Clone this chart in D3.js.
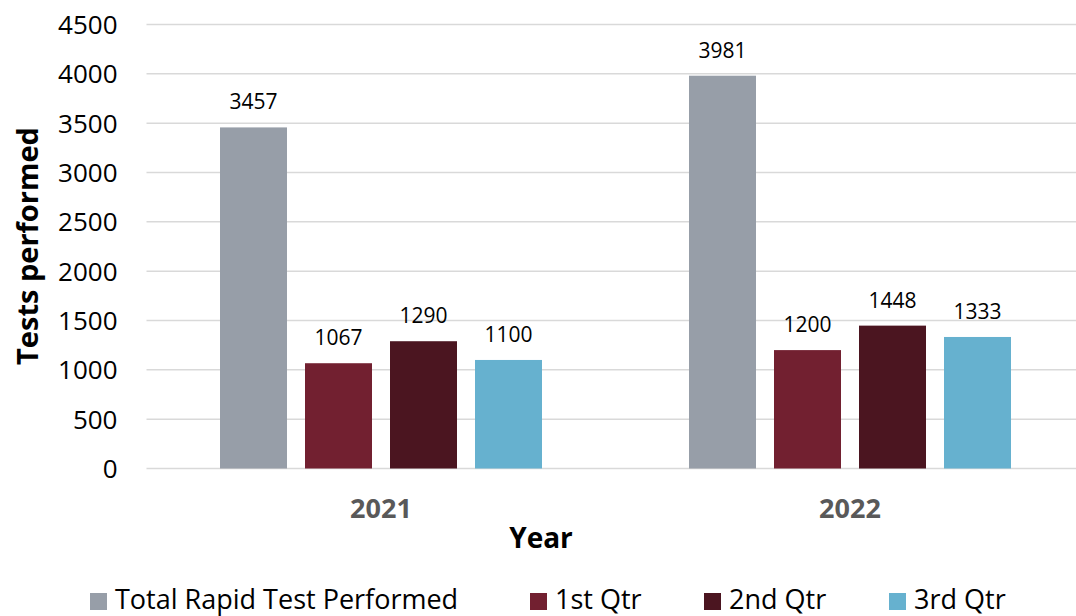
<!DOCTYPE html>
<html>
<head>
<meta charset="utf-8">
<script src="https://cdn.jsdelivr.net/npm/d3@7"></script>
<style>
  body { margin: 0; background: #fff; }
  svg text { font-family: "Open Sans", "Lato", sans-serif; }
</style>
</head>
<body>
<div id="chart"></div>
<script>
var years = ["2021", "2022"];
var seriesNames = ["Total Rapid Test Performed", "1st Qtr", "2nd Qtr", "3rd Qtr"];
var totalRapid = [3457, 3981];
var qtr1 = [1067, 1200];
var qtr2 = [1290, 1448];
var qtr3 = [1100, 1333];
var yTicks = [0, 500, 1000, 1500, 2000, 2500, 3000, 3500, 4000, 4500];
var colors = ["#979ea8", "#722030", "#4b1520", "#66b1cf"];

var seriesValues = [totalRapid, qtr1, qtr2, qtr3];

var outerWidth = 1076, outerHeight = 616;
var margin = { top: 24.5, left: 146.5, right: -8.5, bottom: 147.5 };
var width = outerWidth - margin.left - margin.right,
    height = outerHeight - margin.top - margin.bottom;

var svg = d3.select("#chart").append("svg")
    .attr("width", outerWidth)
    .attr("height", outerHeight);

var g = svg.append("g")
    .attr("transform", "translate(" + margin.left + "," + margin.top + ")");

var x0 = d3.scaleBand().domain(years).range([0, width]).paddingInner(0).paddingOuter(0);
var x1 = d3.scaleBand().domain(d3.range(seriesNames.length))
    .range([73.5, x0.bandwidth() - 73.5]).paddingInner(18 / 85).paddingOuter(0);
var y = d3.scaleLinear().domain([0, 4500]).range([height, 0]);

// gridlines
g.selectAll(".grid")
    .data(yTicks)
    .enter().append("line")
    .attr("x1", 0).attr("x2", width)
    .attr("y1", function (d) { return y(d); })
    .attr("y2", function (d) { return y(d); })
    .attr("stroke", "#d9d9d9")
    .attr("stroke-width", 1.5);

// y tick labels
g.selectAll(".ytick")
    .data(yTicks)
    .enter().append("text")
    .attr("x", -29)
    .attr("y", function (d) { return y(d); })
    .attr("dy", "0.36em")
    .attr("text-anchor", "end")
    .attr("font-size", 26)
    .attr("fill", "#000")
    .text(function (d) { return d; });

// bars
var groups = g.selectAll(".year")
    .data(years)
    .enter().append("g")
    .attr("transform", function (d) { return "translate(" + x0(d) + ",0)"; });

groups.each(function (yr, yi) {
    var grp = d3.select(this);
    seriesValues.forEach(function (vals, si) {
        grp.append("rect")
            .attr("x", x1(si))
            .attr("width", x1.bandwidth())
            .attr("y", y(vals[yi]))
            .attr("height", y(0) - y(vals[yi]))
            .attr("fill", colors[si]);
        grp.append("text")
            .attr("x", x1(si) + x1.bandwidth() / 2)
            .attr("y", y(vals[yi]) - 18)
            .attr("text-anchor", "middle")
            .attr("font-size", 21)
            .attr("fill", "#000")
            .text(vals[yi]);
    });
});

// x category labels
g.selectAll(".xlab")
    .data(years)
    .enter().append("text")
    .attr("x", function (d) { return x0(d) + x0.bandwidth() / 2; })
    .attr("y", height + 49)
    .attr("text-anchor", "middle")
    .attr("font-size", 27)
    .attr("font-weight", "bold")
    .attr("fill", "#595959")
    .text(function (d) { return d; });

// axis titles
svg.append("text")
    .attr("x", 541)
    .attr("y", 548)
    .attr("text-anchor", "middle")
    .attr("font-size", 28)
    .attr("font-weight", "bold")
    .attr("fill", "#000")
    .text("Year");

svg.append("text")
    .attr("transform", "translate(38,246) rotate(-90)")
    .attr("text-anchor", "middle")
    .attr("font-size", 29)
    .attr("font-weight", "bold")
    .attr("fill", "#000")
    .text("Tests performed");

// legend
var legendX = [90, 530, 704, 889];
var legend = svg.selectAll(".legend")
    .data(seriesNames)
    .enter().append("g")
    .attr("transform", function (d, i) { return "translate(" + legendX[i] + ",593)"; });

legend.append("rect")
    .attr("width", 17).attr("height", 17)
    .attr("fill", function (d, i) { return colors[i]; });

legend.append("text")
    .attr("x", 25)
    .attr("y", 16)
    .attr("font-size", 27)
    .attr("fill", "#000")
    .text(function (d) { return d; });
</script>
</body>
</html>
